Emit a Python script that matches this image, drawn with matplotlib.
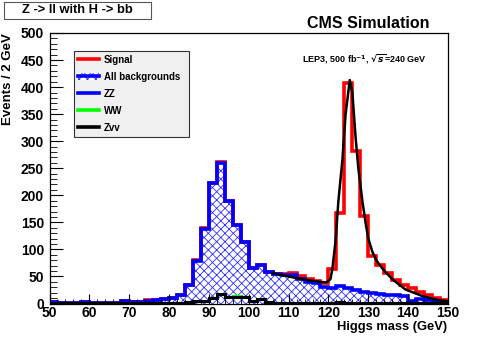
#!/usr/bin/env python3
# Z -> ll with H -> bb: stacked Higgs mass histograms (LEP3 sim) + signal fit.
import numpy as np
import matplotlib
matplotlib.use("Agg")
import matplotlib.pyplot as plt
from matplotlib.lines import Line2D
from matplotlib.patches import Patch, Rectangle
from matplotlib.ticker import MultipleLocator

plt.rcParams["font.family"] = ["Liberation Sans", "DejaVu Sans"]
plt.rcParams["font.weight"] = "bold"
plt.rcParams["hatch.linewidth"] = 0.6

edges = np.arange(50, 152, 2)

# total background (top of blue ZZ stack), events / 2 GeV
bkg = [2, 1, 1, 1, 2, 1, 1, 1, 1, 5,
       3, 3, 4, 6, 8, 10, 16, 34, 79, 138,
       222, 259, 190, 145, 113, 65, 72, 58, 54, 53,
       53, 46, 40, 37, 31, 28, 32, 29, 25, 22,
       19, 17, 16, 15, 13, 4, 9, 6, 5, 3]
# signal stacked on top of the background
signal = [0, 0, 0, 0, 1, 0, 0, 0, 0, 0,
          0, 0, 2, 0, 0, 0, 0, 0, 1, 1,
          0, 2, 0, 0, 0, 0, 0, 0, 0, 1,
          4, 4, 6, 5, 6, 35, 135, 379, 257, 140,
          69, 54, 40, 28, 21, 24, 13, 10, 5, 3]
# Zvv (bottom of the stack) and WW on top of it
zvv = [1, 1, 1, 1, 1, 1, 1, 1, 1, 1,
       1, 1, 1, 1, 1, 1, 1, 2, 5, 4,
       11, 17, 12, 12, 12, 4, 9, 2, 1, 1,
       1, 1, 1, 1, 1, 1, 3, 1, 1, 1,
       1, 1, 1, 1, 1, 1, 1, 1, 1, 1]
ww = [0] * 23 + [2] + [0] * 26

# fitted signal+background curve
fit_x = [106, 108, 110, 112, 114, 116, 118, 119.5, 120.5, 121, 121.8, 122.5,
         123.5, 124.3, 125.35, 126, 126.8, 127.5, 128.5, 129.3, 130, 131,
         132, 133.5, 136, 139.3, 143.5, 147.7, 150]
fit_y = [56, 53, 50, 47, 44, 42, 40, 39, 45, 65, 117, 190,
         265, 350, 413, 390, 308, 250, 190, 150, 120, 96,
         80, 65, 45, 26, 14, 6, 4]

bkg = np.array(bkg)
fig = plt.figure(figsize=(4.98, 3.38), dpi=100)
ax = fig.add_axes([49.5 / 498, 1 - 303.5 / 338, 398.5 / 498, 270.5 / 338])

ax.stairs(bkg, edges, fill=True, facecolor="white", edgecolor="#3030ff",
          hatch="xxxx", linewidth=0)
ax.stairs(bkg + np.array(signal), edges, color="#ff0000", lw=2.6, baseline=0)
ax.stairs(bkg, edges, color="#0000ff", lw=2.6, baseline=0)
ax.stairs(np.array(zvv) + np.array(ww), edges, color="#00ff00", lw=2.2, baseline=0)
ax.stairs(zvv, edges, color="black", lw=2.2, baseline=0)
ax.plot(fit_x, fit_y, color="black", lw=1.8)

ax.set_xlim(50, 150)
ax.set_ylim(0, 500)
ax.set_xticks(range(50, 151, 10))
ax.set_yticks(range(0, 501, 50))
ax.xaxis.set_minor_locator(MultipleLocator(2))
ax.yaxis.set_minor_locator(MultipleLocator(10))
ax.tick_params(axis="both", which="both", direction="in", top=False, right=False,
               labelsize=10)
ax.tick_params(axis="y", which="major", length=9, pad=4)
ax.tick_params(axis="y", which="minor", length=5)
ax.tick_params(axis="x", which="major", length=7, pad=1.5)
ax.tick_params(axis="x", which="minor", length=3.5)
for s in ax.spines.values():
    s.set_linewidth(0.9)

fig.text(8 / 498, 1 - 33 / 338, "Events / 2 GeV", rotation=90, ha="center",
         va="top", fontsize=9.5, fontweight="bold")
fig.text(447 / 498, 1 - 327 / 338, "Higgs mass (GeV)", ha="right", va="center",
         fontsize=9.3, fontweight="bold")
fig.patches.append(Rectangle((4 / 498, 1 - 18.5 / 338), 146.5 / 498, 16.5 / 338,
                             transform=fig.transFigure, facecolor="white",
                             edgecolor="#555555", linewidth=0.8))
fig.text(77 / 498, 1 - 10 / 338, "Z -> ll with H -> bb", ha="center", va="center",
         fontsize=9.3, fontweight="bold")
fig.text(368 / 498, 1 - 24 / 338, "CMS Simulation", ha="center", va="center",
         fontsize=11.5, fontweight="bold")
fig.text(364 / 498, 1 - 59 / 338, r"LEP3, 500 fb$^{-1}$, $\sqrt{s}$=240 GeV",
         ha="center", va="center", fontsize=6.5, fontweight="bold")

handles = [
    Line2D([], [], color="#ff0000", lw=2.6),
    (Patch(facecolor="white", edgecolor="#3030ff", hatch="xxxx", linewidth=0),
     Line2D([], [], color="#0000ff", lw=2.6)),
    Line2D([], [], color="#0000ff", lw=2.6),
    Line2D([], [], color="#00ff00", lw=2.6),
    Line2D([], [], color="black", lw=2.6),
]
labels = ["Signal", "All backgrounds", "ZZ", "WW", "Zvv"]
leg = ax.legend(handles, labels, loc="upper left",
                bbox_to_anchor=(74 / 498, 1 - 135 / 338, 115 / 498, 84 / 338),
                bbox_transform=fig.transFigure, mode="expand", fontsize=7,
                frameon=True, fancybox=False, handlelength=2.2, handletextpad=0.5,
                labelspacing=0.72, borderaxespad=0, borderpad=0.4)
leg.get_frame().set_facecolor("#f0f0f0")
leg.get_frame().set_edgecolor("#333333")
leg.get_frame().set_linewidth(0.8)
leg.get_frame().set_alpha(1)

fig.savefig("out.png", dpi=100)
